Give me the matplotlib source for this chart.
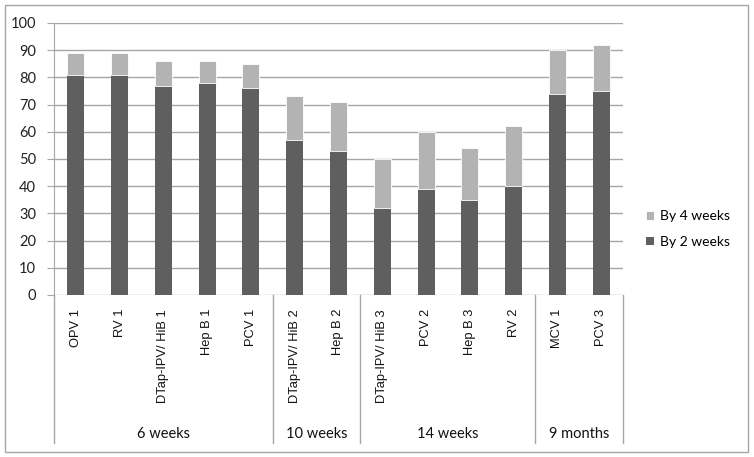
import matplotlib
matplotlib.use("Agg")
import matplotlib.pyplot as plt
from matplotlib.patches import Rectangle
import matplotlib.transforms as mtransforms
import numpy as np

categories = ["OPV 1", "RV 1", "DTap-IPV/ HiB 1", "Hep B 1", "PCV 1",
              "DTap-IPV/ HiB 2", "Hep B 2",
              "DTap-IPV/ HiB 3", "PCV 2", "Hep B 3", "RV 2",
              "MCV 1", "PCV 3"]
by_2_weeks = [81, 81, 77, 78, 76, 57, 53, 32, 39, 35, 40, 74, 75]
by_4_weeks = [89, 89, 86, 86, 85, 73, 71, 50, 60, 54, 62, 90, 92]
groups = ["6 weeks", "10 weeks", "14 weeks", "9 months"]
group_sizes = [5, 2, 4, 2]

DARK = "#5f5f5f"
LIGHT = "#b3b3b3"
GRID = "#a6a6a6"

fig = plt.figure(figsize=(7.54, 4.57), dpi=100)
W, H = 754, 457
ax = fig.add_axes([54 / W, 1 - 295 / H, (623 - 54) / W, (295 - 23) / H])

x = np.arange(len(categories))
b2 = np.array(by_2_weeks)
b4 = np.array(by_4_weeks)
ax.bar(x, b2, width=0.39, color=DARK, zorder=3, label="By 2 weeks")
ax.bar(x, b4 - b2, bottom=b2, width=0.39, color=LIGHT, edgecolor="white",
       linewidth=0.6, zorder=3, label="By 4 weeks")

ax.set_xlim(-0.5, len(categories) - 0.5)
ax.set_ylim(0, 100)
ax.set_yticks(np.arange(0, 101, 10))
ax.yaxis.grid(True, color=GRID, linewidth=1, zorder=0)
ax.set_axisbelow(True)
for s in ["top", "right", "bottom"]:
    ax.spines[s].set_visible(False)
ax.spines["left"].set_color(GRID)
ax.tick_params(axis="y", length=5, color=GRID, pad=8, labelsize=10.5,
               labelcolor="#222222")
for lab in ax.get_yticklabels():
    lab.set_fontfamily("Lato")

ax.set_xticks(x)
ax.set_xticklabels(categories, rotation=90, fontsize=9.3, family="Liberation Sans",
                   va="top", ha="center", color="#111111")
ax.tick_params(axis="x", length=0, pad=10)

# group separators and labels
trans = mtransforms.blended_transform_factory(ax.transData, ax.transAxes)
bounds = np.concatenate([[0], np.cumsum(group_sizes)]) - 0.5
for b in bounds:
    ax.plot([b, b], [0, -0.545], transform=trans, color=GRID, linewidth=1,
            clip_on=False)
for g, lo, hi in zip(groups, bounds[:-1], bounds[1:]):
    ax.text((lo + hi) / 2, -0.511, g, transform=trans, ha="center", va="center",
            fontsize=10.5, family="Lato", color="#111111")

handles, labels = ax.get_legend_handles_labels()
leg = fig.legend(handles[::-1], labels[::-1], loc="center left",
                 bbox_to_anchor=(646 / W, 1 - 229 / H), frameon=False,
                 borderpad=0, borderaxespad=0,
                 prop={"family": "Lato", "size": 10}, handlelength=0.6,
                 handleheight=0.6, handletextpad=0.4, labelspacing=1.0)

fig.patches.append(Rectangle((5 / W, 1 - 452 / H), 743 / W, 447 / H,
                             transform=fig.transFigure, fill=False,
                             edgecolor=GRID, linewidth=1))

fig.savefig("out.png", dpi=100)
